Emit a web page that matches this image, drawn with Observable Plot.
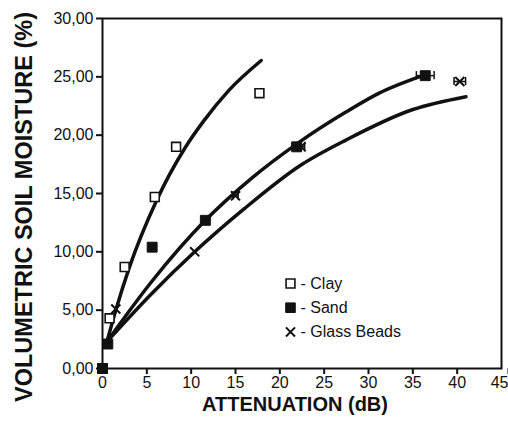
<!DOCTYPE html>
<html>
<head>
<meta charset="utf-8">
<script src="https://cdn.jsdelivr.net/npm/d3@7"></script>
<script src="https://cdn.jsdelivr.net/npm/@observablehq/plot@0.6"></script>
<style>
  html, body { margin: 0; padding: 0; background: #fff; }
  #chart svg { display: block; }
</style>
</head>
<body>
<div id="chart"></div>
<script>
// ---- data ----
const xTicks = [0, 5, 10, 15, 20, 25, 30, 35, 40, 45];
const yTicks = [0, 5, 10, 15, 20, 25, 30];

const clayX   = [0, 0.8, 2.5, 5.9, 8.3, 17.7];
const clayY   = [0, 4.3, 8.7, 14.7, 19.0, 23.6];
const clayErr = [0, 0, 0.3, 0.3, 0.4, 0.4];

const sandX   = [0, 0.6, 5.6, 11.6, 21.9, 36.4];
const sandY   = [0, 2.1, 10.4, 12.7, 19.0, 25.1];
const sandErr = [0, 0, 0, 0, 0.5, 1.0];

const beadsX   = [0, 1.5, 10.4, 15.0, 22.4, 40.3];
const beadsY   = [0, 5.1, 10.0, 14.8, 19.0, 24.6];
const beadsErr = [0, 0, 0, 0.3, 0.4, 0.65];

// fitted curves, points
const clayFitX  = [0.5, 1.5, 3.0, 6.1, 9.3, 11.4, 14.2, 17.9];
const clayFitY  = [2.3, 5.0, 8.6, 14.4, 18.9, 21.2, 23.8, 26.4];
const sandFitX  = [0.5, 5.6, 11.6, 16.8, 22.0, 27.5, 31.2, 36.1];
const sandFitY  = [2.3, 7.5, 12.7, 16.3, 19.3, 22.0, 23.6, 25.1];
const beadsFitX = [0.5, 5.4, 10.4, 16.0, 22.3, 27.5, 35.0, 41.0];
const beadsFitY = [2.3, 6.3, 10.0, 13.7, 17.4, 19.6, 22.2, 23.3];

const legendLabels = ["- Clay", "- Sand", "- Glass Beads"];
const xLabel = "ATTENUATION (dB)";
const yLabel = "VOLUMETRIC SOIL MOISTURE (%)";

// ---- tables ----
const rows = (xs, ys, es) => xs.map((x, i) => ({x, y: ys[i], e: es ? es[i] : 0}));
const clay = rows(clayX, clayY, clayErr);
const sand = rows(sandX, sandY, sandErr);
const beads = rows(beadsX, beadsY, beadsErr);
const clayFit = rows(clayFitX, clayFitY);
const sandFit = rows(sandFitX, sandFitY);
const beadsFit = rows(beadsFitX, beadsFitY);

const ink = "#111";
const errMarks = (data) => {
  const d = data.filter(r => r.e > 0);
  return [
    Plot.ruleY(d, {y: "y", x1: r => r.x - r.e, x2: r => r.x + r.e, stroke: ink, strokeWidth: 1.5}),
    Plot.ruleX(d, {x: r => r.x - r.e, y1: r => r.y - 0.35, y2: r => r.y + 0.35, stroke: ink, strokeWidth: 1.5}),
    Plot.ruleX(d, {x: r => r.x + r.e, y1: r => r.y - 0.35, y2: r => r.y + 0.35, stroke: ink, strokeWidth: 1.5})
  ];
};

const legendSymbols = [
  {symbol: "square", fill: "white", stroke: ink, r: 5, strokeWidth: 1.6},
  {symbol: "square", fill: ink, stroke: ink, r: 5.4, strokeWidth: 1},
  {symbol: "times", fill: "none", stroke: ink, r: 4.2, strokeWidth: 2}
];
const legendMarks = legendLabels.flatMap((lab, i) => [
  Plot.dot([lab], {frameAnchor: "top-left", dx: 188, dy: 265 + i * 24.2, ...legendSymbols[i]}),
  Plot.text([lab], {frameAnchor: "top-left", dx: 198, dy: 265 + i * 24.2, text: d => d,
    textAnchor: "start", lineAnchor: "middle", fontSize: 16, fill: ink})
]);

const lastX = xTicks[xTicks.length - 1];
const chart = Plot.plot({
  width: 508,
  height: 432,
  marginLeft: 102,
  marginRight: 7,
  marginTop: 18,
  marginBottom: 64,
  style: {fontFamily: "'Liberation Sans', Arial, sans-serif", fontSize: "16px", color: ink, background: "#fff"},
  x: {domain: [0, 45], label: null},
  y: {domain: [0, 30], label: null},
  marks: [
    Plot.axisX({ticks: xTicks.filter(t => t !== lastX), tickSize: 6, tickPadding: 2, strokeWidth: 2,
      tickFormat: d => String(d), label: null}),
    Plot.axisX({ticks: [lastX], tickSize: 6, tickPadding: 2, strokeWidth: 2, textAnchor: "end", dx: 7,
      tickFormat: d => String(d), label: null}),
    Plot.axisY({ticks: yTicks, tickSize: 6, tickPadding: 3, strokeWidth: 2,
      tickFormat: d => d.toFixed(2).replace(".", ","), label: null}),
    Plot.frame({stroke: ink, strokeWidth: 2}),
    Plot.line(clayFit, {x: "x", y: "y", stroke: ink, strokeWidth: 3.5, curve: "monotone-x"}),
    Plot.line(sandFit, {x: "x", y: "y", stroke: ink, strokeWidth: 3.5, curve: "monotone-x"}),
    Plot.line(beadsFit, {x: "x", y: "y", stroke: ink, strokeWidth: 3.5, curve: "monotone-x"}),
    ...errMarks(clay), ...errMarks(sand), ...errMarks(beads),
    Plot.dot(beads, {x: "x", y: "y", symbol: "times", r: 4.2, stroke: ink, strokeWidth: 2}),
    Plot.dot(clay, {x: "x", y: "y", symbol: "square", r: 5, fill: "white", stroke: ink, strokeWidth: 1.6}),
    Plot.dot(sand, {x: "x", y: "y", symbol: "square", r: 5.6, fill: ink, stroke: ink, strokeWidth: 1}),
    ...legendMarks,
    Plot.text([xLabel], {frameAnchor: "bottom", dx: -7, dy: 36, text: d => d, fontWeight: "bold", fontSize: 20,
      lineAnchor: "middle", fill: ink}),
    Plot.text([yLabel], {frameAnchor: "left", dx: -78, dy: 13.5, text: d => d, rotate: -90, fontWeight: "bold",
      fontSize: 23.5, lineAnchor: "middle", textAnchor: "middle", fill: ink})
  ]
});
document.getElementById("chart").appendChild(chart);
</script>
</body>
</html>
